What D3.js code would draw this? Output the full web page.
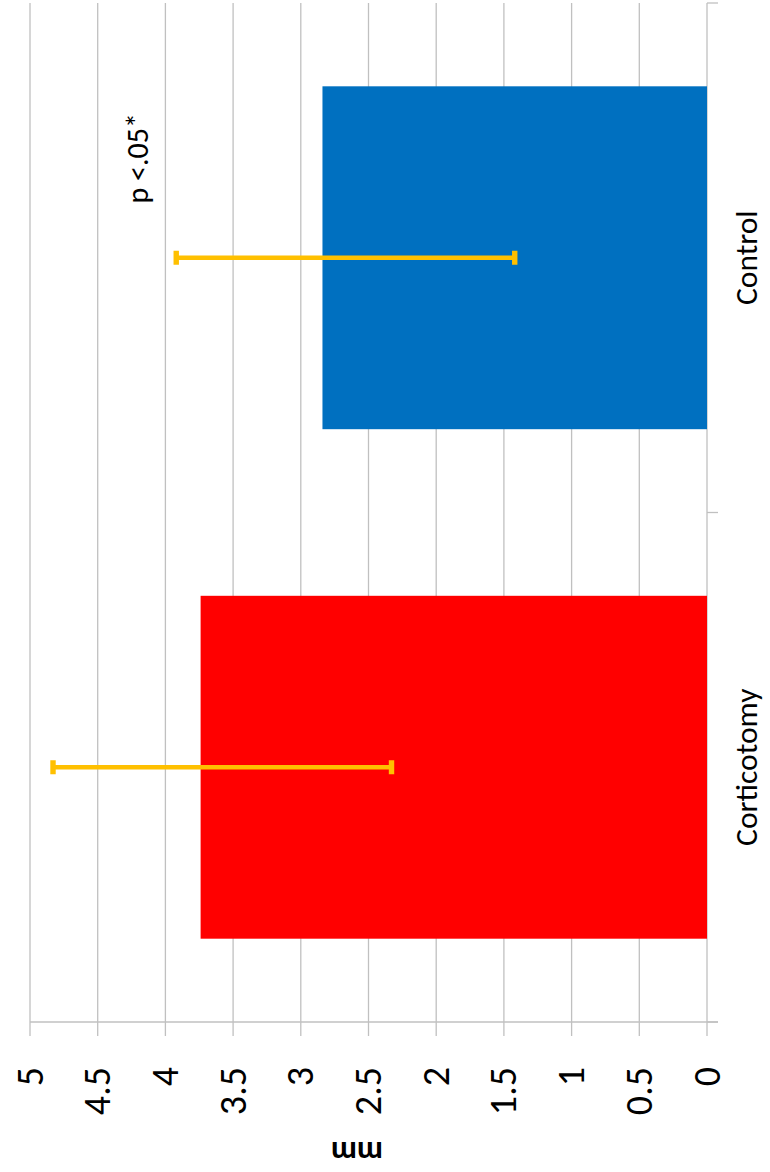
<!DOCTYPE html>
<html>
<head>
<meta charset="utf-8">
<script src="https://cdn.jsdelivr.net/npm/d3@7"></script>
<style>
  body { margin: 0; background: #fff; }
  text { font-family: Calibri, Carlito, Lato, sans-serif; fill: #000; }
</style>
</head>
<body>
<div id="displaybox"></div>
<script>
let categories = ["Corticotomy", "Control"];
let means = [3.74, 2.84];
let errLow = [2.33, 1.42];
let errHigh = [4.83, 3.92];
let barColors = ["#ff0000", "#0070c0"];
let tickValues = [0, 0.5, 1, 1.5, 2, 2.5, 3, 3.5, 4, 4.5, 5];
let tickLabels = ["0", "0.5", "1", "1.5", "2", "2.5", "3", "3.5", "4", "4.5", "5"];
let axisTitle = "mm";
let note = "p <.05*";

let width = 770, height = 1172;
let svg = d3.select("#displaybox").append("svg")
    .attr("width", width)
    .attr("height", height);

// the whole chart is turned on its side: values run right-to-left
let x = d3.scaleLinear()
    .domain([0, 5])
    .range([707, 30]);

let y = d3.scaleBand()
    .domain(categories)
    .range([1022, 3])
    .paddingInner(0.327)
    .paddingOuter(0.1635);

let grid = "#c0c0c0";

// gridlines + tick marks below the value axis
svg.append("g").selectAll("line").data(tickValues)
    .enter().append("line")
        .attr("x1", d => x(d)).attr("x2", d => x(d))
        .attr("y1", 3).attr("y2", 1036)
        .attr("stroke", grid)
        .attr("stroke-width", 1.3);

// value axis line
svg.append("line")
    .attr("x1", x(5)).attr("x2", x(0) + 11)
    .attr("y1", 1022).attr("y2", 1022)
    .attr("stroke", grid).attr("stroke-width", 1.3);

// category axis ticks at band boundaries
let bounds = [y.range()[1], y.range()[1] + y.step(), y.range()[0]];
svg.append("g").selectAll("line").data(bounds)
    .enter().append("line")
        .attr("x1", x(0)).attr("x2", x(0) + 11)
        .attr("y1", d => d).attr("y2", d => d)
        .attr("stroke", grid).attr("stroke-width", 1.3);

// bars
svg.append("g").selectAll("rect").data(categories)
    .enter().append("rect")
        .attr("x", (d, i) => x(means[i]))
        .attr("y", d => y(d))
        .attr("width", (d, i) => x(0) - x(means[i]))
        .attr("height", y.bandwidth())
        .attr("fill", (d, i) => barColors[i]);

// error bars
let eb = svg.append("g");
categories.forEach(function(c, i) {
    let cy = y(c) + y.bandwidth() / 2;
    eb.append("line")
        .attr("x1", x(errHigh[i])).attr("x2", x(errLow[i]))
        .attr("y1", cy).attr("y2", cy)
        .attr("stroke", "#ffc000").attr("stroke-width", 4.5);
    [errHigh[i], errLow[i]].forEach(function(v) {
        eb.append("rect")
            .attr("x", x(v) - 2.7).attr("y", cy - 7)
            .attr("width", 5.4).attr("height", 14)
            .attr("fill", "#ffc000");
    });
});

// tick labels (rotated)
svg.append("g").selectAll("text").data(tickValues)
    .enter().append("text")
        .attr("transform", d => `translate(${x(d)}, 1067) rotate(-90)`)
        .attr("text-anchor", "end")
        .attr("dy", "0.33em")
        .style("font-size", "38px")
        .text((d, i) => tickLabels[i]);

// category labels
svg.append("g").selectAll("text").data(categories)
    .enter().append("text")
        .attr("transform", d => `translate(747, ${y(d) + y.bandwidth() / 2}) rotate(-90)`)
        .attr("text-anchor", "middle")
        .attr("dy", "0.33em")
        .style("font-size", "31.5px")
        .text(d => d);

// axis title, upside down
svg.append("text")
    .attr("transform", "translate(357, 1150) rotate(180)")
    .attr("text-anchor", "middle")
    .attr("dy", "0.24em")
    .style("font-size", "32px")
    .style("font-weight", "bold")
    .text(axisTitle);

// significance note
svg.append("text")
    .attr("transform", `translate(${x(4.2)}, ${y("Control") + y.bandwidth() * 0.21}) rotate(-90)`)
    .attr("text-anchor", "middle")
    .attr("dy", "0.33em")
    .style("font-size", "30px")
    .text(note);
</script>
</body>
</html>
